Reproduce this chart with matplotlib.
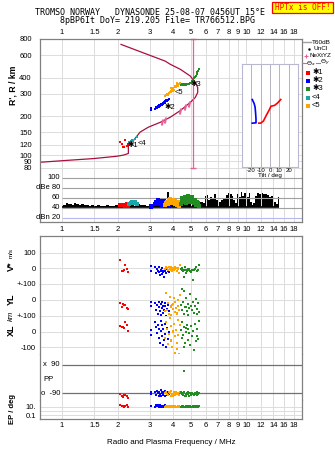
import matplotlib
matplotlib.use('Agg')
import matplotlib.pyplot as plt
from matplotlib.lines import Line2D
from matplotlib.patches import Rectangle
from matplotlib.ticker import NullLocator

plt.rcParams['font.family'] = ['Liberation Sans', 'DejaVu Sans']

W, H = 335, 451

freq_ticks = [1, 1.5, 2, 3, 4, 5, 6, 7, 8, 9, 10, 12, 14, 16, 18]
freq_labels = ['1', '1.5', '2', '3', '4', '5', '6', '7', '8', '9', '10', '12', '14', '16', '18']
height_ticks = [80, 90, 100, 120, 150, 200, 300, 400, 600, 800]

# plasma frequency profile
prof_f = [0.76, 1.06, 1.48, 1.98, 2.15, 2.29, 2.29, 2.29, 2.44, 2.65, 2.94, 3.41,
          3.86, 4.38, 4.96, 5.28, 5.44, 5.44, 5.28, 4.96, 4.38, 3.86, 3.63, 2.09]
prof_h = [88, 91, 94, 98, 100, 103, 116, 120, 130, 151, 165, 180,
          197, 222, 257, 281, 307, 336, 366, 412, 465, 509, 538, 726]

nexyz_f = [3.48, 3.63, 4.38, 4.66, 4.86]
nexyz_h = [180, 186, 222, 235, 250]

fmark = 5.15
fmark_h = [79, 800]

# echo clusters
red_f = [2.07, 2.15, 2.20, 2.25, 2.12, 2.28, 2.18]
red_h = [126, 116, 130, 118, 121, 123, 115]
red_amp = [45, 46, 44, 47, 45, 44, 46]
red_v = [50, -15, 20, -5, -18, -25, -8]
red_yl = [-20, -25, -30, -52, -45, -58, -30]
red_xl = [36, 30, 64, 43, 28, 6, 22]
red_pp = [-96, -115, -100, -105, -110, -118, -98]
red_ep = [30, 12, 12, 20, 15, 10, 10]

cyan_f = [2.32, 2.36, 2.40, 2.44, 2.49, 2.55]
cyan_h = [126, 129, 130, 128, 134, 138]
cyan_amp = [47, 50, 52, 49, 51, 48]

blue_f = [3.03, 3.05, 3.20, 3.24, 3.28, 3.31, 3.34, 3.37, 3.40, 3.42, 3.45,
          3.47, 3.50, 3.52, 3.55, 3.58, 3.61, 3.64, 3.67, 3.71, 3.76, 3.82]
blue_h = [231, 226, 229, 236, 232, 240, 236, 244, 240, 248, 244,
          252, 247, 256, 250, 258, 262, 256, 266, 264, 270, 274]
blue_amp = [44, 42, 48, 52, 50, 55, 47, 53, 51, 49, 54,
            46, 52, 50, 48, 53, 47, 50, 45, 49, 46, 44]
blue_v = [15, -20, 10, -30, -5, -15, -25, 5, -40, -10, -20,
          -35, 0, -15, -25, -55, -10, -20, -30, -5, -15, -25]
blue_yl = [-40, -15, -20, -60, -30, -85, -10, -45, -70, -25, -95,
           -50, -15, -35, -80, -60, -20, -40, -100, -55, -30, -70]
blue_xl = [10, -20, 60, 30, -10, 45, -40, 20, -70, 5, 70,
           -30, 40, -85, 15, -55, 50, -15, -95, 25, -45, 0]
blue_pp = [-85, -95, -80, -100, -75, -90, -110, -85, -95, -70, -105,
           -90, -80, -100, -95, -85, -110, -75, -90, -100, -85, -95]
blue_ep = [12, 15, 10, 20, 12, 30, 10, 15, 25, 12, 10,
           18, 12, 15, 10, 12, 20, 12, 10, 15, 12, 10]

orange_f = [3.64, 3.68, 3.72, 3.76, 3.80, 3.84, 3.88, 3.92, 3.96, 4.00, 4.04,
            4.08, 4.12, 4.16, 4.20, 4.24, 4.28, 4.32, 4.36, 3.90, 4.02, 4.18]
orange_h = [288, 296, 300, 292, 306, 312, 318, 310, 326, 332, 322,
            340, 346, 336, 352, 344, 360, 356, 366, 330, 314, 362]
orange_amp = [46, 50, 52, 48, 55, 57, 50, 53, 49, 56, 52,
              47, 54, 50, 45, 52, 48, 44, 47, 51, 55, 49]
orange_v = [-5, 5, 0, -10, 10, -5, 0, 5, -15, 0, -10,
            5, -5, 0, -20, -5, 0, -30, 20, -8, -3, 2]
orange_yl = [-70, 45, -60, -20, -85, 20, -40, -95, -30, -55, 10,
             -75, -15, -50, -90, -35, 0, -65, 30, -45, -25, -80]
orange_xl = [-40, 60, 20, -80, -15, 85, -60, 35, -100, -5, 50,
             -135, -30, 10, -70, 75, -20, -140, 40, -50, 5, -110]
orange_pp = [-90, -85, -95, -100, -80, -90, -105, -75, -95, -110, -85,
             -90, -100, -80, -95, -88, -92, -98, -84, -106, -94, -86]
orange_ep = [10, 12, 10, 15, 10, 12, 10, 10, 12, 10, 15,
             10, 12, 10, 10, 12, 10, 15, 10, 12, 10, 10]

green_f = [4.40, 4.45, 4.50, 4.55, 4.60, 4.65, 4.70, 4.75, 4.80, 4.85, 4.90, 4.95,
           5.00, 5.06, 5.12, 5.18, 5.24, 5.30, 5.36, 5.42, 5.48, 5.52, 4.58, 4.68]
green_h = [352, 355, 350, 356, 353, 357, 354, 358, 355, 360, 357, 362,
           366, 375, 385, 396, 405, 415, 428, 440, 452, 465, 348, 360]
green_amp = [48, 55, 60, 52, 58, 62, 50, 56, 63, 54, 59, 51,
             57, 61, 53, 49, 56, 45, 52, 47, 50, 44, 58, 60]
green_v = [-5, -10, 0, -15, -8, 5, -12, -20, -5, -10, -2, -15,
           -25, -8, -72, -10, -5, 10, -15, -20, -8, 20, -55, -30]
green_yl = [-30, -60, 70, -10, -85, -45, 15, -70, -25, -95, -50, 40,
            -35, -65, -15, -80, -40, 5, -55, -90, -20, -75, 55, -45]
green_xl = [10, -40, 60, -20, 30, -70, 0, 45, -55, 20, -10, -85,
            35, -30, 5, -115, 50, -60, 15, -25, -45, 70, -95, 25]
green_pp = [-85, -95, -90, -100, -80, -110, -92, -88, -96, -84, -105, -90,
            -98, -86, -94, -102, -88, -92, -100, -85, -95, -90, 54, -108]
green_ep = [10, 12, 10, 15, 10, 10, 12, 10, 10, 15, 10, 12,
            10, 10, 12, 10, 15, 10, 12, 10, 10, 12, 10, 15]

# cluster label positions
lab_f = [2.27, 3.58, 4.96, 2.56, 4.07]
lab_h = [119, 235, 356, 123, 307]
lab_text = ['\u27311', '\u27312', '\u27313', '<4', '<5']

# tilt inset
tilt_blue = [-19, -17, -16, -15.5, -15, -15, -19]
tilt_blue_h = [268, 250, 235, 215, 190, 178, 177]
tilt_red = [-12, -10, -7, -4, -1, 1, 5, 8, 11.5]
tilt_red_h = [177, 177, 184, 203, 222, 238, 242, 252, 268]

# amplitude / noise
noise_floor = 41
noise_f = [1.00, 1.03, 1.06, 1.09, 1.12, 1.15, 1.18, 1.21, 1.25, 1.29,
           1.33, 1.37, 1.42, 1.47, 1.52, 1.58, 1.64, 1.70, 1.77, 1.84,
           1.91, 1.98, 2.06, 2.14, 2.22, 2.31, 2.40, 2.50, 2.60, 2.70,
           2.81, 2.92, 3.04, 3.16, 3.29, 3.42, 3.56, 3.70, 3.76, 3.85,
           4.00, 4.16, 4.33, 4.50, 4.68, 4.87, 5.06, 5.26, 5.47, 5.69,
           5.92, 6.00, 6.15, 6.30, 6.45, 6.60, 6.75, 6.90, 7.05, 7.20,
           7.40, 7.60, 7.80, 8.00, 8.20, 8.40, 8.60, 8.80, 9.00, 9.20,
           9.40, 9.60, 9.80, 10.0, 10.2, 10.4, 10.6, 10.8, 11.0, 11.3,
           11.6, 11.9, 12.2, 12.5, 12.8, 13.1, 13.4, 13.7, 14.0, 14.3,
           14.6, 14.9, 15.1]
noise_db = [48, 46, 49, 47, 48, 46, 49, 47, 46, 48,
            45, 46, 44, 45, 44, 45, 44, 44, 45, 44,
            44, 45, 44, 46, 45, 44, 47, 44, 48, 46,
            45, 44, 44, 45, 46, 48, 47, 50, 71, 62,
            48, 50, 47, 52, 58, 60, 55, 50, 47, 52,
            50, 63, 66, 56, 62, 58, 67, 56, 62, 52,
            55, 60, 66, 69, 67, 64, 56, 50, 68, 62,
            72, 64, 70, 73, 62, 70, 52, 46, 50, 64,
            69, 68, 70, 67, 68, 66, 62, 63, 57, 52,
            48, 61, 44]
amp_ticks = [100, 80, 60, 40, 20]
amp_labels = ['100', 'dBe 80', '60', '40', 'dBn 20']

RED, BLUE, GREEN, CYAN, ORANGE = '#ff0000', '#0000ff', '#228b22', '#1aa6a6', '#ffa500'
CRIMSON, PINK = '#a8103e', '#e8609a'
GRID, SPINE = '#dcdcdc', '#808080'

clusters = [
    (red_f, red_h, red_amp, RED),
    (cyan_f, cyan_h, cyan_amp, CYAN),
    (blue_f, blue_h, blue_amp, BLUE),
    (orange_f, orange_h, orange_amp, ORANGE),
    (green_f, green_h, green_amp, GREEN),
]
lower = [
    (red_f, red_v, red_yl, red_xl, red_pp, red_ep, RED),
    (blue_f, blue_v, blue_yl, blue_xl, blue_pp, blue_ep, BLUE),
    (orange_f, orange_v, orange_yl, orange_xl, orange_pp, orange_ep, ORANGE),
    (green_f, green_v, green_yl, green_xl, green_pp, green_ep, GREEN),
]

fig = plt.figure(figsize=(W / 100, H / 100), dpi=100)


def box(x0, y0, x1, y1):
    return fig.add_axes([x0 / W, 1 - y1 / H, (x1 - x0) / W, (y1 - y0) / H])


def freq_axis(ax, labels=None):
    ax.set_xscale('log')
    ax.set_xlim(0.76, 20)
    ax.set_xticks(freq_ticks, freq_labels if labels else [''] * len(freq_ticks))
    ax.xaxis.set_minor_locator(NullLocator())
    ax.grid(axis='x', color=GRID, lw=0.7)
    ax.tick_params(length=0, labelsize=5.5, pad=2)
    for s in ax.spines.values():
        s.set_color(SPINE)
        s.set_linewidth(0.9)


def pt(x, y):
    return x / W, 1 - y / H


# ---- R' panel
ax_r = box(40, 39, 302, 177.5)
freq_axis(ax_r, True)
ax_r.xaxis.tick_top()
ax_r.set_yscale('log')
ax_r.set_ylim(67, 800)
ax_r.set_yticks(height_ticks, [str(v) for v in height_ticks])
ax_r.yaxis.set_minor_locator(NullLocator())
ax_r.grid(axis='y', color=GRID, lw=0.7)
ax_r.tick_params(axis='y', pad=6)
ax_r.spines['bottom'].set_visible(False)

ax_r.plot(prof_f, prof_h, color=CRIMSON, lw=0.9)
ax_r.plot([fmark, fmark], fmark_h, color=PINK, lw=0.9, marker='_', ms=4, clip_on=False)
ax_r.plot(nexyz_f, nexyz_h, ls='none', marker='$I$', ms=3.5, color=PINK)
for f, h, a, c in clusters:
    ax_r.plot(f, h, 's', ms=1.8, mew=0, color=c)
for f, h, t in zip(lab_f, lab_h, lab_text):
    ax_r.text(f, h, t, fontsize=5.5, va='center', ha='left', color='k')

# ---- amplitude panel
ax_a = box(40, 177.5, 302, 222)
freq_axis(ax_a)
ax_a.set_ylim(12, 100)
ax_a.set_yticks([])
ax_a.spines['top'].set_visible(False)
ax_a.hlines(amp_ticks[:-1], 1.0, 20, color='#a0a0a0', lw=0.8, clip_on=False)
ax_a.hlines(amp_ticks[-1], 1.0, 20, color='#b8b8f0', lw=0.8)
for v, t in zip(amp_ticks, amp_labels):
    ax_a.text(0.975, v, t, fontsize=5.5, ha='right', va='center')
ax_a.fill_between(noise_f, noise_floor, noise_db, step='mid', color='k', lw=0)
ax_a.hlines(noise_floor, noise_f[0], noise_f[-1], color='k', lw=1.2)
for f, h, a, c in clusters:
    ax_a.plot(f, a, 's', ms=2.7, mew=0, color=c)

# ---- tilt inset
ax_in = box(242, 64, 298, 167)
ax_in.set_xlim(-30, 30)
ax_in.set_yscale('log')
ax_in.set_ylim(82, 500)
ax_in.set_yticks([])
ax_in.yaxis.set_minor_locator(NullLocator())
ax_in.set_xticks([-20, -10, 0, 10, 20], ['-20', '-10', '0', '10', '20'])
ax_in.tick_params(length=0, labelsize=4.3, pad=0.5)
ax_in.grid(axis='x', color='#a8a8b8', lw=0.6)
for s in ax_in.spines.values():
    s.set_color('#b8b8d0')
ax_in.set_xlabel('Tilt / deg', fontsize=4.5, labelpad=0)
ax_in.plot(tilt_blue, tilt_blue_h, color=BLUE, lw=1.2)
ax_in.plot(tilt_red, tilt_red_h, color=RED, lw=1.2)

# ---- lower panels
ax_v = box(40, 236, 302, 284)
ax_yl = box(40, 284, 302, 316)
ax_xl = box(40, 316, 302, 354)
ax_pp = box(40, 354, 302, 400)
ax_ep = box(40, 400, 302, 419)

freq_axis(ax_v, True)
ax_v.tick_params(axis='x', labeltop=True, labelbottom=False)
for ax in (ax_yl, ax_xl, ax_pp):
    freq_axis(ax)
freq_axis(ax_ep, True)

for ax in (ax_v, ax_yl, ax_xl, ax_pp):
    ax.spines['bottom'].set_visible(False)
for ax in (ax_yl, ax_xl, ax_pp, ax_ep):
    ax.spines['top'].set_visible(False)

ax_v.set_ylim(-100, 205)
ax_v.set_yticks([100, 0], ['100', '0'])
ax_yl.set_ylim(-100, 100)
ax_yl.set_yticks([100, 0], ['+-100', '0'])
ax_xl.set_ylim(-142, 100)
ax_xl.set_yticks([100, 0, -100], ['+-100', '0', '-100'])
for ax in (ax_v, ax_yl, ax_xl):
    ax.grid(axis='y', color=GRID, lw=0.7)
    ax.tick_params(axis='y', pad=3)

ax_pp.set_ylim(-133, 160)
ax_pp.set_yticks([])
ax_pp.hlines([90, -90], 1.0, 20, color='#707070', lw=0.9)
ax_pp.text(0.975, 90, 'x  90', fontsize=5.5, ha='right', va='center')
ax_pp.text(0.975, -90, 'o  -90', fontsize=5.5, ha='right', va='center')
ax_pp.text(0.79, 0, 'PP', fontsize=5.5, ha='left', va='center')

ax_ep.set_yscale('log')
ax_ep.set_ylim(0.011, 410)
ax_ep.set_yticks([10, 1, 0.1], ['10.', '', '0.1'])
ax_ep.yaxis.set_minor_locator(NullLocator())
ax_ep.grid(axis='y', color=GRID, lw=0.7)
ax_ep.tick_params(axis='y', pad=3)

for f, v, yl, xl, pp, ep, c in lower:
    ax_v.plot(f, v, 's', ms=1.8, mew=0, color=c)
    ax_yl.plot(f, yl, 's', ms=1.8, mew=0, color=c)
    ax_xl.plot(f, xl, 's', ms=1.8, mew=0, color=c)
    ax_pp.plot(f, pp, 's', ms=1.8, mew=0, color=c)
    ax_ep.plot(f, ep, 's', ms=1.8, mew=0, color=c, clip_on=False)

ax_ep.set_xlabel('Radio and Plasma Frequency / MHz', fontsize=5.8, labelpad=7)

# ---- side labels
fig.text(*pt(13, 85), "R', R / km", rotation=90, fontsize=6.3, fontweight='bold', ha='center', va='center')
fig.text(*pt(11, 266), 'V*', rotation=90, fontsize=6.5, fontweight='bold', ha='center', va='center')
fig.text(*pt(11, 253), 'm/s', rotation=90, fontsize=4.5, ha='center', va='center')
fig.text(*pt(11, 299), 'YL', rotation=90, fontsize=6.5, fontweight='bold', ha='center', va='center')
fig.text(*pt(11, 316), 'km', rotation=90, fontsize=5.5, fontstyle='italic', ha='center', va='center')
fig.text(*pt(11, 330), 'XL', rotation=90, fontsize=6.5, fontweight='bold', ha='center', va='center')
fig.text(*pt(13, 409), 'EP / deg', rotation=90, fontsize=5.5, fontweight='bold', ha='center', va='center')

# ---- titles
fig.text(*pt(150, 12.5), 'TROMSO NORWAY   DYNASONDE 25-08-07 0456UT 15\u00b0E',
         family='DejaVu Sans Mono', fontsize=6, ha='center', va='center')
fig.text(*pt(157.5, 20.5), '8pBP6It DoY= 219.205 File= TR766512.BPG',
         family='DejaVu Sans Mono', fontsize=6, ha='center', va='center')
fig.add_artist(Rectangle(pt(272, 12.7), 61 / W, 11 / H, transform=fig.transFigure,
                         facecolor='#ffff00', edgecolor='#ff0000', lw=0.9))
fig.text(*pt(302.5, 7.3), 'HPTx is OFF!', family='DejaVu Sans Mono', fontsize=5.6,
         color='#ff0000', ha='center', va='center')

# ---- legend
fig.add_artist(Line2D([303 / W, 311 / W], [1 - 42.3 / H] * 2, color='#a0a0a0', lw=1))
fig.text(*pt(312, 42.3), 'T60dB', fontsize=4.6, va='center')
fig.add_artist(Line2D([309 / W], [1 - 48.5 / H], marker='.', ms=1.5, color='k'))
fig.text(*pt(313, 48.5), 'UnCl', fontsize=4.6, va='center')
fig.add_artist(Line2D([306 / W], [1 - 55.5 / H], marker='+', ms=3.5, mew=0.8, color=PINK))
fig.text(*pt(310, 55.5), 'NeXtYZ', fontsize=4.5, va='center')
fig.add_artist(Line2D([302 / W, 306 / W], [1 - 63.3 / H] * 2, color=PINK, lw=0.8))
fig.text(*pt(306, 63.3), r'$\Theta_x$', fontsize=4.6, va='center')
fig.add_artist(Line2D([316 / W, 320 / W], [1 - 63.3 / H] * 2, color='#8080e0', lw=0.8))
fig.text(*pt(320, 63.3), r'$\Theta_y$', fontsize=4.6, va='center')
leg_y = [72.5, 80.5, 89, 97.5, 105.5]
leg_c = [RED, BLUE, GREEN, CYAN, ORANGE]
for y, c, t in zip(leg_y, leg_c, ['\u27311', '\u27312', '\u27313', '<4', '<5']):
    fig.add_artist(Line2D([308 / W], [1 - y / H], marker='s', ms=2.5, mew=0, color=c))
    fig.text(*pt(312, y), t, fontsize=5.5, va='center')

fig.savefig('out.png', dpi=100)
